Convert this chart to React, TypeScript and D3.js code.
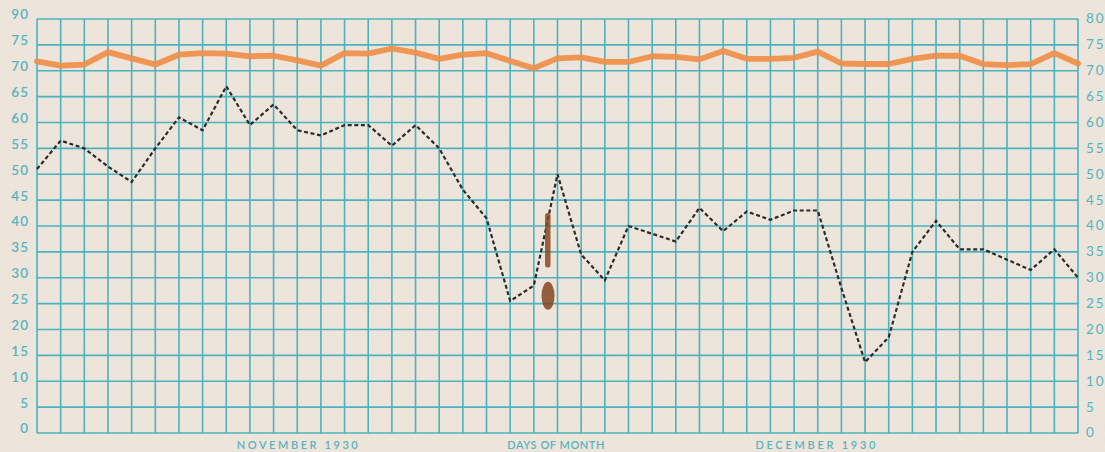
import React, { useRef, useEffect } from 'react';
import * as d3 from 'd3';

// daily readings (one per grid column)
const dashedValues = [
    51, 56.5, 55, 51.5, 48.5, 55, 61, 58.5, 67, 59.5,
    63.5, 58.5, 57.5, 59.5, 59.5, 55.5, 59.5, 55, 47, 41.5,
    25.5, 28.5, 50, 34.5, 29.5, 40, 38.5, 37, 43.5, 39,
    42.8, 41.2, 43, 43, 28, 13.7, 18.5, 35, 41, 35.5,
    35.5, 33.5, 31.5, 35.5, 30,
];

const orangeValues = [
    71.8, 71.0, 71.2, 73.6, 72.4, 71.2, 73.1, 73.4, 73.3, 72.8,
    72.9, 72.0, 71.0, 73.4, 73.3, 74.3, 73.5, 72.3, 73.1, 73.4,
    71.9, 70.5, 72.4, 72.6, 71.7, 71.7, 72.8, 72.7, 72.2, 73.8,
    72.3, 72.3, 72.5, 73.7, 71.4, 71.3, 71.3, 72.3, 72.9, 72.9,
    71.3, 71.1, 71.3, 73.4, 71.4,
];

const tickValues = [0, 5, 10, 15, 20, 25, 30, 35, 40, 45, 50, 55, 60, 65, 70, 75, 80];
const leftTickLabels = ['0', '5', '10', '15', '20', '25', '30', '35', '40', '45', '50', '55', '60', '65', '70', '75', '90'];
const rightTickLabels = ['0', '5', '10', '15', '20', '25', '30', '35', '40', '45', '50', '55', '60', '65', '70', '75', '80'];

const bottomLabels = [
    { text: 'NOVEMBER 1930', day: 11.0, len: 121 },
    { text: 'DAYS OF MONTH', day: 21.93, len: 97 },
    { text: 'DECEMBER 1930', day: 32.9, len: 120 },
];

const W = 1105;
const H = 452;
const GRID = '#4cb2bf';
const INK = '#56b3c0';

export default function App() {
    const svgRef = useRef<SVGSVGElement>(null);

    useEffect(() => {
        if (!svgRef.current) return;
        const svg = d3.select(svgRef.current);
        svg.selectAll('*').remove();

        const margin = { top: 19, right: 27, bottom: 19, left: 37 };
        const innerW = W - margin.left - margin.right;
        const innerH = H - margin.top - margin.bottom;

        const x = d3.scaleLinear().domain([0, dashedValues.length - 1]).range([0, innerW]);
        const y = d3.scaleLinear().domain([0, 80]).range([innerH, 0]);

        // paper
        const defs = svg.append('defs');
        const f = defs.append('filter').attr('id', 'paper').attr('x', 0).attr('y', 0).attr('width', '100%').attr('height', '100%');
        f.append('feTurbulence').attr('type', 'fractalNoise').attr('baseFrequency', 0.9).attr('numOctaves', 2).attr('seed', 3);
        f.append('feColorMatrix').attr('values', '0 0 0 0 0.45  0 0 0 0 0.38  0 0 0 0 0.3  0 0 0 0.2 0');

        svg.append('rect').attr('width', W).attr('height', H).attr('fill', '#f0e8de');
        svg.append('rect').attr('width', W).attr('height', H).attr('filter', 'url(#paper)').attr('opacity', 0.5);

        const g = svg.append('g').attr('transform', `translate(${margin.left},${margin.top})`);

        // grid
        g.selectAll('.hline')
            .data(tickValues)
            .enter()
            .append('line')
            .attr('x1', 0)
            .attr('x2', innerW)
            .attr('y1', d => y(d))
            .attr('y2', d => y(d))
            .attr('stroke', GRID)
            .attr('stroke-width', 1.6);

        g.selectAll('.vline')
            .data(dashedValues.map((_, i) => i))
            .enter()
            .append('line')
            .attr('x1', d => x(d))
            .attr('x2', d => x(d))
            .attr('y1', 0)
            .attr('y2', innerH)
            .attr('stroke', GRID)
            .attr('stroke-width', 1.6);

        // axis labels
        g.selectAll('.lt')
            .data(tickValues)
            .enter()
            .append('text')
            .attr('x', -8)
            .attr('y', d => y(d) - 3)
            .attr('text-anchor', 'end')
            .attr('dominant-baseline', 'middle')
            .attr('font-family', 'Lato, sans-serif')
            .attr('font-size', 13.5)
            .attr('font-weight', 600)
            .attr('letter-spacing', 1)
            .attr('fill', INK)
            .text((_, i) => leftTickLabels[i]);

        g.selectAll('.rt')
            .data(tickValues)
            .enter()
            .append('text')
            .attr('x', innerW + 8)
            .attr('y', d => y(d) + 1)
            .attr('text-anchor', 'start')
            .attr('dominant-baseline', 'middle')
            .attr('font-family', 'Lato, sans-serif')
            .attr('font-size', 13.5)
            .attr('letter-spacing', 2)
            .attr('fill', INK)
            .text((_, i) => rightTickLabels[i]);

        g.selectAll('.bl')
            .data(bottomLabels)
            .enter()
            .append('text')
            .attr('x', d => x(d.day) - d.len / 2)
            .attr('y', innerH + 16)
            .attr('textLength', d => d.len)
            .attr('lengthAdjust', 'spacing')
            .attr('font-family', 'Lato, sans-serif')
            .attr('font-size', 11)
            .attr('font-weight', 600)
            .attr('fill', INK)
            .text(d => d.text);

        // orange crayon line
        const line = d3.line<number>().x((_, i) => x(i)).y(d => y(d));

        g.append('path')
            .attr('d', line(orangeValues))
            .attr('fill', 'none')
            .attr('stroke', '#f08f4a')
            .attr('stroke-width', 5.8)
            .attr('stroke-linejoin', 'round')
            .attr('stroke-linecap', 'round')
            .attr('opacity', 0.92);

        // dashed line
        g.append('path')
            .attr('d', line(dashedValues))
            .attr('fill', 'none')
            .attr('stroke', '#2b2b2b')
            .attr('stroke-width', 2.2)
            .attr('stroke-dasharray', '4,2.6');

        // rust mark from the pin
        const pinX = x(21.6);
        g.append('rect')
            .attr('x', pinX - 3)
            .attr('y', y(42.5))
            .attr('width', 5.5)
            .attr('height', y(32) - y(42.5))
            .attr('rx', 2.5)
            .attr('fill', '#8a4a1e')
            .attr('opacity', 0.85);
        g.append('ellipse')
            .attr('cx', pinX)
            .attr('cy', y(26.5))
            .attr('rx', 6.5)
            .attr('ry', 14)
            .attr('fill', '#7e3c14')
            .attr('opacity', 0.8);
    }, []);

    return (
        <svg
            ref={svgRef}
            width={W}
            height={H}
            style={{ position: 'absolute', left: 0, top: 0, display: 'block' }}
        />
    );
}
